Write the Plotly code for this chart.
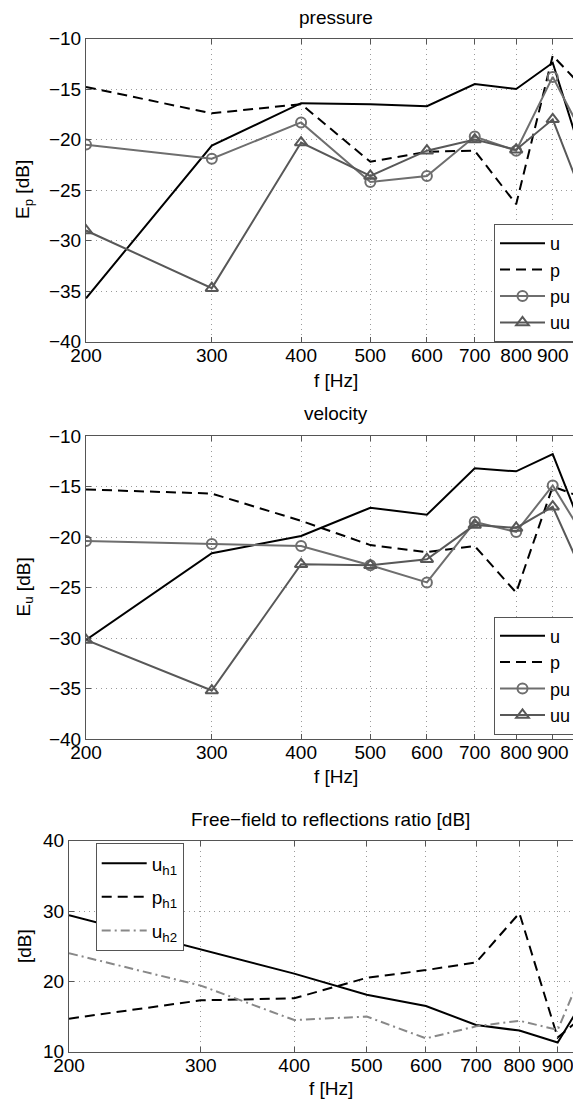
import plotly.graph_objects as go
import math

W, H = 581, 1103
OFF = 8  # default page body margin of the html page

# ---------------- data ----------------
freq = [200, 300, 400, 500, 600, 700, 800, 900, 1000]
xtick_vals = [200, 300, 400, 500, 600, 700, 800, 900]
xtick_text = ["200", "300", "400", "500", "600", "700", "800", "900"]

# pressure panel
p_u = [-35.7, -20.6, -16.4, -16.5, -16.7, -14.5, -15.0, -12.4, -22.7]
p_p = [-14.8, -17.4, -16.5, -22.2, -21.2, -21.1, -26.4, -11.7, -15.1]
p_pu = [-20.5, -21.9, -18.3, -24.2, -23.6, -19.7, -21.1, -13.8, -20.0]
p_uu = [-29.0, -34.7, -20.3, -23.6, -21.1, -20.0, -21.0, -18.0, -26.3]

# velocity panel
v_u = [-30.2, -21.6, -19.9, -17.1, -17.8, -13.2, -13.5, -11.8, -20.0]
v_p = [-15.3, -15.7, -18.4, -20.8, -21.5, -20.9, -25.5, -15.0, -16.2]
v_pu = [-20.4, -20.7, -20.9, -22.8, -24.5, -18.5, -19.5, -14.9, -20.2]
v_uu = [-30.2, -35.2, -22.7, -22.8, -22.2, -18.8, -19.1, -17.0, -24.2]

# free-field to reflections ratio panel
r_uh1 = [29.4, 24.5, 21.1, 18.1, 16.5, 13.8, 13.0, 11.3, 19.3]
r_ph1 = [14.7, 17.3, 17.6, 20.5, 21.6, 22.7, 29.7, 12.0, 16.1]
r_uh2 = [24.0, 19.4, 14.5, 15.0, 11.9, 13.6, 14.4, 13.1, 24.6]

# ---------------- helpers ----------------
def px(x):
    return (x - OFF) / W

def py(y):
    return 1 - (y - OFF) / H

FONT = "Liberation Sans, Arial, Helvetica, sans-serif"
FS = 19
AXC = "#555555"
GRIDC = "#9a9a9a"
PU_C = "#6e6e6e"
UU_C = "#585858"
DASH = "10px,6px"

fig = go.Figure()

def add_four(xa, ya, leg, u, p, pu, uu):
    fig.add_trace(go.Scatter(x=freq, y=u, name="u", mode="lines",
                             line=dict(color="black", width=2),
                             xaxis=xa, yaxis=ya, legend=leg))
    fig.add_trace(go.Scatter(x=freq, y=p, name="p", mode="lines",
                             line=dict(color="black", width=2, dash=DASH),
                             xaxis=xa, yaxis=ya, legend=leg))
    fig.add_trace(go.Scatter(x=freq, y=pu, name="pu", mode="lines+markers",
                             line=dict(color=PU_C, width=2),
                             marker=dict(symbol="circle-open", size=10,
                                         color=PU_C, line=dict(width=2, color=PU_C)),
                             xaxis=xa, yaxis=ya, legend=leg))
    fig.add_trace(go.Scatter(x=freq, y=uu, name="uu", mode="lines+markers",
                             line=dict(color=UU_C, width=2),
                             marker=dict(symbol="triangle-up-open", size=11,
                                         color=UU_C, line=dict(width=2, color=UU_C)),
                             xaxis=xa, yaxis=ya, legend=leg))

add_four("x", "y", "legend", p_u, p_p, p_pu, p_uu)
add_four("x2", "y2", "legend2", v_u, v_p, v_pu, v_uu)

fig.add_trace(go.Scatter(x=freq, y=r_uh1, name="u<sub>h1</sub>", mode="lines",
                         line=dict(color="black", width=2), legendgroup="a",
                         xaxis="x3", yaxis="y3", legend="legend3"))
fig.add_trace(go.Scatter(x=freq, y=r_ph1, name="p<sub>h1</sub>", mode="lines",
                         line=dict(color="black", width=2, dash=DASH), legendgroup="b",
                         xaxis="x3", yaxis="y3", legend="legend3"))
fig.add_trace(go.Scatter(x=freq, y=r_uh2, name="u<sub>h2</sub>", mode="lines",
                         line=dict(color="#888888", width=2, dash="9px,4px,2px,4px"),
                         legendgroup="c",
                         xaxis="x3", yaxis="y3", legend="legend3"))


def xaxis(left_px, ppd, anchor):
    lo = math.log10(200)
    right_px = W + OFF
    hi = lo + (right_px - left_px) / ppd
    return dict(type="log", range=[lo, hi], domain=[px(left_px), 1.0], anchor=anchor,
                tickmode="array", tickvals=xtick_vals, ticktext=xtick_text,
                showgrid=True, gridcolor=GRIDC, griddash="1px,4px", gridwidth=1,
                ticks="inside", ticklen=5, tickcolor=AXC,
                showline=True, linecolor=AXC, linewidth=1, mirror="ticks",
                tickfont=dict(family=FONT, size=FS, color="black"),
                ticklabelstandoff=-4,
                zeroline=False, fixedrange=True, automargin=False)

def yaxis(top_px, bot_px, rng, dt, anchor):
    return dict(range=rng, domain=[py(bot_px), py(top_px)], anchor=anchor,
                dtick=dt, tick0=0,
                showgrid=True, gridcolor=GRIDC, griddash="1px,4px", gridwidth=1,
                ticks="inside", ticklen=5, tickcolor=AXC,
                showline=True, linecolor=AXC, linewidth=1, mirror=False,
                tickfont=dict(family=FONT, size=FS, color="black"),
                zeroline=False, fixedrange=True, automargin=False)

def legend(x_px, y_px, fs=FS, gap=0):
    return dict(x=px(x_px), y=py(y_px), xanchor="left", yanchor="top",
                bgcolor="white", bordercolor=AXC, borderwidth=1,
                font=dict(family=FONT, size=fs, color="black"),
                tracegroupgap=gap, itemsizing="trace", itemwidth=45)

def ann(text, x, y, angle=0):
    return dict(text=text, x=px(x), y=py(y), xref="paper", yref="paper",
                xanchor="center", yanchor="middle", showarrow=False,
                textangle=angle, font=dict(family=FONT, size=FS, color="black"))

fig.update_layout(
    width=W, height=H,
    margin=dict(l=0, r=0, t=0, b=0, autoexpand=False),
    paper_bgcolor="white", plot_bgcolor="white",
    font=dict(family=FONT, size=FS, color="black"),
    xaxis=xaxis(86, 714.5, "y"),
    yaxis=yaxis(38.5, 341.7, [-40, -10], 5, "x"),
    xaxis2=xaxis(86, 714.5, "y2"),
    yaxis2=yaxis(436, 739, [-40, -10], 5, "x2"),
    xaxis3=xaxis(69, 748.1, "y3"),
    yaxis3=yaxis(840.7, 1051.7, [10, 40], 10, "x3"),
    legend=legend(494, 224, fs=18),
    legend2=legend(494, 616.5, fs=18),
    legend3=legend(95.7, 843.3, gap=6),
    annotations=[
        ann("pressure", 335.7, 17),
        ann("f [Hz]", 335.7, 380),
        ann("E<sub>p</sub> [dB]", 24, 190, -90),
        ann("velocity", 335.7, 413),
        ann("f [Hz]", 335.7, 776),
        ann("E<sub>u</sub> [dB]", 24, 587.5, -90),
        ann("Free\u2212field to reflections ratio [dB]", 330.5, 819),
        ann("f [Hz]", 330.5, 1088),
        ann("[dB]", 24, 946, -90),
    ],
    showlegend=True,
)

fig.write_html("out.html")
